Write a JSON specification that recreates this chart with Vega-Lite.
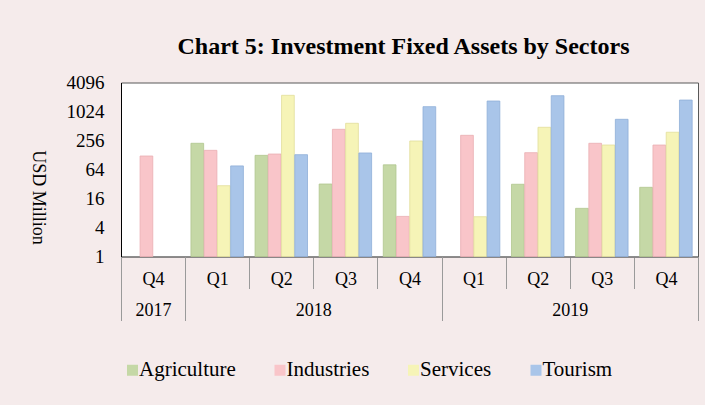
{
  "$schema": "https://vega.github.io/schema/vega-lite/v6.json",
  "width": 577,
  "height": 174,
  "autosize": {"type": "none"},
  "padding": {"left": 121, "top": 82.5, "right": 7, "bottom": 148.5},
  "background": "#f5ebeb",
  "title": {
    "text": "Chart 5: Investment Fixed Assets by Sectors",
    "font": "Liberation Serif",
    "fontSize": 24,
    "fontWeight": "bold",
    "color": "#000000",
    "anchor": "middle",
    "frame": "group",
    "baseline": "middle",
    "dx": -6,
    "offset": 3
  },
  "config": {
    "view": {"fill": "#ffffff", "stroke": "#595959", "strokeWidth": 1},
    "axis": {"labelFont": "Liberation Serif", "labelColor": "#000000", "titleFont": "Liberation Serif", "titleColor": "#000000", "grid": false}
  },
  "data": {
    "values": [
      {"period": "2017 Q4", "sector": "Industries", "value": 122},
      {"period": "2018 Q1", "sector": "Agriculture", "value": 224},
      {"period": "2018 Q1", "sector": "Industries", "value": 160},
      {"period": "2018 Q1", "sector": "Services", "value": 29.5},
      {"period": "2018 Q1", "sector": "Tourism", "value": 76},
      {"period": "2018 Q2", "sector": "Agriculture", "value": 126},
      {"period": "2018 Q2", "sector": "Industries", "value": 134},
      {"period": "2018 Q2", "sector": "Services", "value": 2220},
      {"period": "2018 Q2", "sector": "Tourism", "value": 130},
      {"period": "2018 Q3", "sector": "Agriculture", "value": 32},
      {"period": "2018 Q3", "sector": "Industries", "value": 437},
      {"period": "2018 Q3", "sector": "Services", "value": 583},
      {"period": "2018 Q3", "sector": "Tourism", "value": 141},
      {"period": "2018 Q4", "sector": "Agriculture", "value": 80},
      {"period": "2018 Q4", "sector": "Industries", "value": 6.8},
      {"period": "2018 Q4", "sector": "Services", "value": 250},
      {"period": "2018 Q4", "sector": "Tourism", "value": 1290},
      {"period": "2019 Q1", "sector": "Industries", "value": 328},
      {"period": "2019 Q1", "sector": "Services", "value": 6.7},
      {"period": "2019 Q1", "sector": "Tourism", "value": 1690},
      {"period": "2019 Q2", "sector": "Agriculture", "value": 31.6},
      {"period": "2019 Q2", "sector": "Industries", "value": 143},
      {"period": "2019 Q2", "sector": "Services", "value": 481},
      {"period": "2019 Q2", "sector": "Tourism", "value": 2180},
      {"period": "2019 Q3", "sector": "Agriculture", "value": 10},
      {"period": "2019 Q3", "sector": "Industries", "value": 224},
      {"period": "2019 Q3", "sector": "Services", "value": 206},
      {"period": "2019 Q3", "sector": "Tourism", "value": 705},
      {"period": "2019 Q4", "sector": "Agriculture", "value": 27.3},
      {"period": "2019 Q4", "sector": "Industries", "value": 206},
      {"period": "2019 Q4", "sector": "Services", "value": 380},
      {"period": "2019 Q4", "sector": "Tourism", "value": 1770}
    ]
  },
  "layer": [
    {
      "mark": {"type": "bar", "strokeWidth": 0.8},
      "encoding": {
        "x": {
          "field": "period", "type": "nominal",
          "scale": {"domain": ["2017 Q4", "2018 Q1", "2018 Q2", "2018 Q3", "2018 Q4", "2019 Q1", "2019 Q2", "2019 Q3", "2019 Q4"], "paddingInner": 0, "paddingOuter": 0},
          "axis": {
            "title": null,
            "orient": "bottom",
            "tickBand": "extent",
            "tickSize": 32,
            "tickColor": "#9a9a9a",
            "domainColor": "#6e6e6e",
            "labelAngle": 0,
            "labelFontSize": 18,
            "labelBaseline": "middle",
            "labelPadding": -9,
            "labelExpr": "split(datum.value, ' ')[1]"
          }
        },
        "xOffset": {
          "field": "sector", "type": "nominal",
          "scale": {"domain": ["Agriculture", "Industries", "Services", "Tourism"], "paddingInner": 0.04, "paddingOuter": 0.44}
        },
        "y": {
          "field": "value", "type": "quantitative",
          "stack": null,
          "scale": {"type": "log", "base": 2, "domain": [1, 4096], "nice": false},
          "axis": {
            "title": "USD Million",
            "titleAngle": 90,
            "titleFontSize": 18,
            "titleFontWeight": "normal",
            "titleAlign": "center",
            "titleBaseline": "middle",
            "titleX": -83.5,
            "titleY": 114.5,
            "values": [1, 4, 16, 64, 256, 1024, 4096],
            "format": "d",
            "ticks": false,
            "domainColor": "#000000",
            "labelFontSize": 19,
            "labelPadding": 17
          }
        },
        "y2": {"datum": 1},
        "color": {
          "field": "sector", "type": "nominal",
          "scale": {"domain": ["Agriculture", "Industries", "Services", "Tourism"], "range": ["#c5d8a6", "#f9c5c9", "#f6f4b7", "#a9c5e9"]},
          "legend": {
            "title": null,
            "orient": "none",
            "direction": "horizontal",
            "legendX": 1,
            "legendY": 277,
            "symbolType": "square",
            "symbolSize": 121,
            "symbolStrokeWidth": 0,
            "labelFont": "Liberation Serif",
            "labelFontSize": 21,
            "labelColor": "#000000",
            "labelOffset": -4,
            "columnPadding": 33.5
          }
        },
        "stroke": {
          "field": "sector", "type": "nominal",
          "scale": {"domain": ["Agriculture", "Industries", "Services", "Tourism"], "range": ["#b1c68f", "#eaaeb3", "#e2de9b", "#8fafd8"]},
          "legend": null
        }
      }
    },
    {
      "mark": {"type": "bar", "opacity": 0},
      "encoding": {
        "x": {
          "field": "period", "type": "nominal",
          "axis": {
            "title": null,
            "orient": "bottom",
            "domain": false,
            "tickBand": "extent",
            "tickSize": 64,
            "tickColor": "#9a9a9a",
            "tickOpacity": {"condition": {"test": "datum.value == null || datum.value === '2017 Q4' || datum.value === '2018 Q4' || datum.value === '2019 Q4'", "value": 1}, "value": 0},
            "labelAngle": 0,
            "labelFontSize": 18,
            "labelBaseline": "middle",
            "labelPadding": -10,
            "labelOffset": {"condition": {"test": "datum.value === '2017 Q4'", "value": 0}, "value": 32},
            "labelExpr": "datum.value === '2017 Q4' ? '2017' : datum.value === '2018 Q2' ? '2018' : datum.value === '2019 Q2' ? '2019' : ''"
          }
        }
      }
    }
  ],
  "resolve": {"axis": {"x": "independent"}}
}
